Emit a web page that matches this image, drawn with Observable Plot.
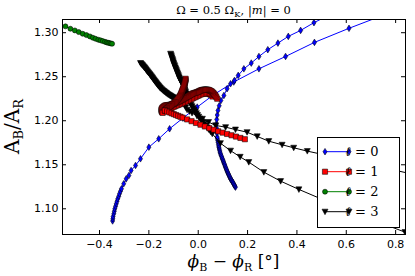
<!DOCTYPE html>
<html><head><meta charset="utf-8">
<script src="https://cdn.jsdelivr.net/npm/d3@7"></script>
<script src="https://cdn.jsdelivr.net/npm/@observablehq/plot@0.6"></script>
<style>body{margin:0;background:#fff}svg{display:block}</style>
</head><body><div id="chart"></div>
<script>
// ---- data ----
const xTicks = [-0.4, -0.2, 0.0, 0.2, 0.4, 0.6, 0.8];
const yTicks = [1.10, 1.15, 1.20, 1.25, 1.30];
const xDomain = [-0.55, 0.84];
const yDomain = [1.0708, 1.315];
const legendLabels = ["0", "1", "2", "3"];

// ℓ = 0 (blue diamonds)
const l0_branch1 = [[-0.347,1.0862],[-0.346,1.0886],[-0.345,1.0912],[-0.342,1.0943],[-0.340,1.0972],[-0.338,1.100],[-0.335,1.1028],[-0.332,1.1057],[-0.329,1.1085],[-0.326,1.1114],[-0.322,1.1142],[-0.319,1.117],[-0.315,1.120],[-0.311,1.1227],[-0.302,1.1284],[-0.292,1.134],[-0.281,1.1378],[-0.272,1.1435],[-0.254,1.1492],[-0.234,1.1568],[-0.200,1.170],[-0.160,1.1795],[-0.116,1.1909],[-0.062,1.203],[-0.004,1.2155],[0.060,1.229],[0.144,1.244],[0.246,1.259],[0.354,1.273],[0.471,1.289],[0.611,1.305],[0.76,1.321]];
const l0_branch2 = [[0.151,1.1246],[0.1485,1.1258],[0.146,1.127],[0.1435,1.1282],[0.141,1.1295],[0.1385,1.1307],[0.136,1.132],[0.1335,1.133],[0.131,1.134],[0.129,1.1352],[0.127,1.1365],[0.125,1.1377],[0.123,1.139],[0.121,1.1402],[0.119,1.1415],[0.117,1.1428],[0.115,1.144],[0.113,1.1455],[0.111,1.147],[0.109,1.1485],[0.107,1.150],[0.105,1.1515],[0.103,1.153],[0.101,1.1545],[0.099,1.156],[0.097,1.1575],[0.095,1.159],[0.0925,1.1608],[0.090,1.1625],[0.0885,1.1643],[0.087,1.166],[0.0855,1.1678],[0.084,1.1695],[0.083,1.1712],[0.082,1.173],[0.0805,1.1752],[0.079,1.1775],[0.078,1.1795],[0.077,1.1814],[0.0755,1.186],[0.0745,1.1915],[0.074,1.1966],[0.075,1.2015],[0.077,1.2065],[0.080,1.2117],[0.085,1.217],[0.092,1.223],[0.104,1.2287],[0.117,1.2364],[0.131,1.242],[0.147,1.2458],[0.162,1.2515],[0.185,1.259],[0.215,1.2655],[0.246,1.273],[0.282,1.2807],[0.323,1.2882],[0.365,1.2958],[0.415,1.3026],[0.469,1.3114],[0.53,1.32]];

// ℓ = 1 (red squares)
const l1_arch = [[0.077,1.225],[0.0735,1.2268],[0.070,1.2285],[0.0665,1.2298],[0.063,1.231],[0.0595,1.232],[0.056,1.233],[0.0525,1.2336],[0.049,1.2342],[0.0455,1.2346],[0.042,1.235],[0.0385,1.2352],[0.035,1.2354],[0.0315,1.2354],[0.028,1.2354],[0.0245,1.2353],[0.021,1.2352],[0.0175,1.235],[0.014,1.2348],[0.0105,1.2344],[0.007,1.234],[0.0035,1.2335],[0.000,1.233],[-0.0035,1.2326],[-0.007,1.2322],[-0.0105,1.2319],[-0.014,1.2316],[-0.0175,1.2313],[-0.021,1.231],[-0.0245,1.2305],[-0.028,1.230],[-0.0315,1.2294],[-0.035,1.2288],[-0.0385,1.2282],[-0.042,1.2276],[-0.046,1.227],[-0.050,1.2264],[-0.054,1.2257],[-0.058,1.225],[-0.062,1.2244],[-0.066,1.2238],[-0.070,1.2232],[-0.074,1.2226],[-0.078,1.222],[-0.082,1.2215],[-0.0865,1.221],[-0.091,1.2204],[-0.095,1.2198],[-0.099,1.2193],[-0.1035,1.219],[-0.108,1.2186],[-0.1125,1.2183],[-0.117,1.218],[-0.121,1.2178],[-0.125,1.2177],[-0.129,1.2175],[-0.133,1.2174],[-0.1365,1.2168],[-0.140,1.2162],[-0.143,1.2154],[-0.146,1.2145],[-0.148,1.2135],[-0.149,1.2125],[-0.1485,1.2115],[-0.148,1.2105],[-0.146,1.2097],[-0.144,1.209]];
const l1_arch2 = [[0.058,1.2275],[0.052,1.2292],[0.046,1.2302],[0.040,1.2308],[0.034,1.231],[0.028,1.231],[0.022,1.2308],[0.016,1.2304],[0.010,1.2298],[0.004,1.229],[-0.002,1.2282],[-0.008,1.2274],[-0.014,1.2266],[-0.020,1.2258],[-0.026,1.225],[-0.032,1.2242],[-0.038,1.2234],[-0.044,1.2226],[-0.050,1.2218],[-0.056,1.221],[-0.062,1.2202],[-0.068,1.2195],[-0.074,1.2188],[-0.080,1.2181],[-0.086,1.2174],[-0.092,1.2167],[-0.098,1.216],[-0.104,1.2152],[-0.110,1.2144],[-0.116,1.2136],[-0.122,1.2128],[-0.128,1.212],[-0.134,1.2112]];
const l1_column = [[-0.051,1.2477],[-0.0515,1.2466],[-0.052,1.2455],[-0.053,1.2444],[-0.054,1.2432],[-0.055,1.2421],[-0.056,1.241],[-0.057,1.2399],[-0.058,1.2388],[-0.0595,1.2377],[-0.061,1.2366],[-0.0625,1.2355],[-0.064,1.2344],[-0.0655,1.2333],[-0.067,1.2322],[-0.0685,1.2311],[-0.070,1.230],[-0.072,1.229],[-0.074,1.228],[-0.0765,1.227],[-0.079,1.226],[-0.0815,1.225],[-0.084,1.224],[-0.087,1.223],[-0.090,1.222],[-0.093,1.2212],[-0.096,1.2205],[-0.0995,1.2197],[-0.103,1.219],[-0.1065,1.2182],[-0.110,1.2175],[-0.1135,1.2167],[-0.117,1.216],[-0.1205,1.2152],[-0.124,1.2145],[-0.127,1.2137],[-0.130,1.213],[-0.1325,1.2122],[-0.135,1.2115]];
const l1_line = [[-0.135,1.2115],[-0.126,1.2105],[-0.117,1.2095],[-0.108,1.2085],[-0.099,1.2075],[-0.090,1.2065],[-0.081,1.2055],[-0.072,1.2045],[-0.063,1.2035],[-0.045,1.2015],[-0.027,1.1995],[-0.009,1.1975],[0.009,1.1955],[0.027,1.1935],[0.045,1.1915],[0.063,1.1898],[0.081,1.188],[0.099,1.1865],[0.117,1.185],[0.135,1.1835],[0.153,1.182],[0.171,1.1805],[0.189,1.179]];

// ℓ = 2 (green circles)
const l2_branch = [[-0.538,1.3072],[-0.518,1.3045],[-0.500,1.3026],[-0.484,1.3007],[-0.468,1.2988],[-0.453,1.2973],[-0.439,1.2958],[-0.427,1.2943],[-0.416,1.2931],[-0.405,1.292],[-0.396,1.2913],[-0.387,1.2905],[-0.378,1.2897],[-0.371,1.289],[-0.365,1.2886],[-0.360,1.2882],[-0.354,1.2878],[-0.349,1.2875]];

// ℓ = 3 (black triangles)
const l3_upper = [[-0.234,1.2655],[-0.2315,1.2648],[-0.229,1.264],[-0.2265,1.2633],[-0.224,1.2625],[-0.2215,1.2617],[-0.219,1.2608],[-0.2165,1.26],[-0.214,1.2591],[-0.2115,1.2582],[-0.209,1.2572],[-0.2065,1.2563],[-0.204,1.2553],[-0.201,1.2544],[-0.198,1.2534],[-0.1955,1.2525],[-0.193,1.2515],[-0.1905,1.2506],[-0.188,1.2496],[-0.1855,1.2487],[-0.183,1.2477],[-0.1805,1.2468],[-0.178,1.2458],[-0.1755,1.2449],[-0.173,1.2439],[-0.1705,1.243],[-0.168,1.2421],[-0.1655,1.2412],[-0.163,1.2403],[-0.1605,1.2395],[-0.158,1.2386],[-0.1555,1.2378],[-0.153,1.237],[-0.1495,1.2361],[-0.146,1.2352],[-0.1425,1.2344],[-0.139,1.2336],[-0.1355,1.2328],[-0.132,1.2321],[-0.129,1.2314],[-0.126,1.2307],[-0.1225,1.23],[-0.119,1.2294],[-0.1155,1.2288],[-0.112,1.2282],[-0.109,1.2276],[-0.106,1.2271],[-0.1025,1.2266],[-0.099,1.2261],[-0.095,1.2256],[-0.091,1.2251],[-0.0865,1.2246],[-0.082,1.2241],[-0.078,1.2236],[-0.074,1.2232],[-0.0695,1.2227],[-0.065,1.2223],[-0.0605,1.2202],[-0.056,1.218],[-0.0505,1.2152],[-0.045,1.2125],[-0.035,1.2106],[-0.025,1.2088],[-0.005,1.2055],[0.017,1.2022],[0.042,1.1985],[0.070,1.1947],[0.111,1.1927],[0.151,1.190],[0.198,1.187],[0.239,1.1822],[0.286,1.1768],[0.340,1.1727],[0.387,1.1693],[0.442,1.1655],[0.50,1.162],[0.57,1.158],[0.65,1.153],[0.73,1.148],[0.89,1.138]];
const l3_lower = [[-0.112,1.2761],[-0.110,1.2747],[-0.1085,1.2733],[-0.107,1.2719],[-0.105,1.2705],[-0.1035,1.269],[-0.102,1.2676],[-0.1005,1.2662],[-0.099,1.2648],[-0.097,1.2634],[-0.095,1.262],[-0.093,1.2605],[-0.091,1.2591],[-0.089,1.2577],[-0.087,1.2562],[-0.085,1.2548],[-0.083,1.2534],[-0.081,1.252],[-0.079,1.2505],[-0.077,1.2491],[-0.075,1.2477],[-0.073,1.2465],[-0.0705,1.2452],[-0.068,1.244],[-0.066,1.2427],[-0.064,1.2416],[-0.062,1.2405],[-0.060,1.2394],[-0.058,1.2382],[-0.056,1.2368],[-0.0545,1.2354],[-0.053,1.234],[-0.051,1.2325],[-0.049,1.2308],[-0.047,1.229],[-0.0445,1.2272],[-0.042,1.2255],[-0.039,1.2238],[-0.036,1.222],[-0.0325,1.2201],[-0.029,1.2182],[-0.025,1.2164],[-0.021,1.2145],[-0.0165,1.2125],[-0.012,1.2105],[-0.0075,1.2085],[-0.003,1.2065],[0.002,1.2045],[0.007,1.2025],[0.0125,1.2005],[0.018,1.1985],[0.024,1.1965],[0.030,1.1945],[0.0365,1.1922],[0.043,1.190],[0.050,1.1876],[0.057,1.1852],[0.090,1.1745],[0.131,1.166],[0.17,1.159],[0.205,1.153],[0.266,1.1416],[0.334,1.1314],[0.408,1.122],[0.50,1.111],[0.61,1.098],[0.72,1.086],[0.838,1.0735]];

// ---- layout / style ----
const W = 415, H = 276, mL = 62, mR = 10, mT = 19, mB = 42;
const plotW = W - mL - mR, plotH = H - mT - mB;
const tickLen = 4;

const thinDiamond = {draw(ctx, size) {const r = Math.sqrt(size / Math.PI); ctx.moveTo(0, -r); ctx.lineTo(0.62 * r, 0); ctx.lineTo(0, r); ctx.lineTo(-0.62 * r, 0); ctx.closePath();}};
const squareSym = {draw(ctx, size) {const r = Math.sqrt(size / Math.PI); ctx.moveTo(-r, -r); ctx.lineTo(r, -r); ctx.lineTo(r, r); ctx.lineTo(-r, r); ctx.closePath();}};
const triDown = {draw(ctx, size) {const r = Math.sqrt(size / Math.PI); ctx.moveTo(-r, -0.85 * r); ctx.lineTo(r, -0.85 * r); ctx.lineTo(0, r); ctx.closePath();}};
const circleSym = {draw(ctx, size) {const r = Math.sqrt(size / Math.PI); ctx.moveTo(r, 0); ctx.arc(0, 0, r, 0, 2 * Math.PI);}};

const rows = (pairs, branch) => pairs.map(([x, y]) => ({x, y, branch}));

const series = [
  {label: legendLabels[0], color: "#0000ff", symbol: thinDiamond, r: 3.3, data: [...rows(l0_branch1, "a"), ...rows(l0_branch2, "b")]},
  {label: legendLabels[3], color: "#000000", symbol: triDown, r: 3.0, data: [...rows(l3_upper, "a"), ...rows(l3_lower, "b")]},
  {label: legendLabels[1], color: "#ff0000", symbol: squareSym, r: 2.6, data: [...rows(l1_arch2, "d"), ...rows(l1_arch, "a"), ...rows(l1_column, "b"), ...rows(l1_line, "c")]},
  {label: legendLabels[2], color: "#008000", symbol: circleSym, r: 2.5, data: rows(l2_branch, "a")}
];

const marks = [];
for (const s of series) {
  marks.push(Plot.line(s.data, {x: "x", y: "y", z: "branch", stroke: s.color, strokeWidth: 1, clip: true}));
  marks.push(Plot.dot(s.data, {x: "x", y: "y", symbol: s.symbol, r: s.r, fill: s.color, stroke: "#000", strokeWidth: 0.55, clip: true}));
}

const chart = Plot.plot({
  width: W, height: H,
  marginLeft: mL, marginRight: mR, marginTop: mT, marginBottom: mB,
  style: {fontFamily: "DejaVu Sans", fontSize: "11px", background: "#fff"},
  x: {domain: xDomain},
  y: {domain: yDomain},
  marks: [
    ...marks,
    Plot.ruleX(xTicks, {x: d => d, insetTop: plotH - tickLen, stroke: "#000"}),
    Plot.ruleX(xTicks, {x: d => d, insetBottom: plotH - tickLen, stroke: "#000"}),
    Plot.ruleY(yTicks, {y: d => d, insetRight: plotW - tickLen, stroke: "#000"}),
    Plot.ruleY(yTicks, {y: d => d, insetLeft: plotW - tickLen, stroke: "#000"}),
    Plot.axisX(xTicks, {tickSize: 0, tickPadding: 6, tickFormat: d3.format(".1f"), fontSize: 11, label: null}),
    Plot.axisY(yTicks, {tickSize: 0, tickPadding: 4, tickFormat: d3.format(".2f"), fontSize: 11, label: null}),
    Plot.frame({stroke: "#000", strokeWidth: 1})
  ]
});

document.getElementById("chart").appendChild(chart);

// ---- legend, title, axis labels ----
const svg = d3.select(chart);
const serif = "'DejaVu Serif', serif";

const leg = svg.append("g");
leg.append("rect").attr("x", 317.5).attr("y", 137.5).attr("width", 82).attr("height", 90)
  .attr("fill", "#fff").attr("stroke", "#000").attr("stroke-width", 1);
const legOrder = [series[0], series[2], series[3], series[1]];
legOrder.forEach((s, i) => {
  const cy = 151.7 + i * 20;
  leg.append("line").attr("x1", 325).attr("x2", 349).attr("y1", cy).attr("y2", cy)
    .attr("stroke", s.color).attr("stroke-width", 1);
  const symPath = d3.symbol(s.symbol, Math.PI * s.r * s.r)();
  for (const px of [325, 349]) {
    leg.append("path").attr("d", symPath).attr("transform", `translate(${px},${cy})`)
      .attr("fill", s.color).attr("stroke", "#000").attr("stroke-width", 0.55);
  }
  const t = leg.append("text").attr("x", 362).attr("y", cy + 4.5)
    .attr("font-family", serif).attr("font-size", 13);
  t.append("tspan").attr("font-style", "italic").text("ℓ");
  t.append("tspan").text(" = " + s.label);
});

// title
const title = svg.append("text").attr("x", mL + plotW / 2).attr("y", 14)
  .attr("text-anchor", "middle").attr("font-family", serif).attr("font-size", 11.5);
title.append("tspan").text("Ω = 0.5 Ω");
title.append("tspan").attr("font-size", 8).attr("dy", 2.5).text("K");
title.append("tspan").attr("dy", -2.5).attr("dx", 0.5).text(", |");
title.append("tspan").attr("font-style", "italic").text("m");
title.append("tspan").text("| = 0");

// y label
const yl = svg.append("text").attr("transform", `translate(19,${mT + plotH / 2}) rotate(-90)`)
  .attr("text-anchor", "middle").attr("font-family", serif).attr("font-size", 20);
yl.append("tspan").text("A");
yl.append("tspan").attr("font-size", 13).attr("dy", 4).text("B");
yl.append("tspan").attr("dy", -4).text("/A");
yl.append("tspan").attr("font-size", 13).attr("dy", 4).text("R");

// x label
const xl = svg.append("text").attr("x", mL + plotW / 2).attr("y", 267)
  .attr("text-anchor", "middle").attr("font-family", serif).attr("font-size", 17);
xl.append("tspan").attr("font-style", "italic").text("ϕ");
xl.append("tspan").attr("font-size", 11).attr("dy", 3.5).text("B");
xl.append("tspan").attr("dy", -3.5).text(" − ");
xl.append("tspan").attr("font-style", "italic").text("ϕ");
xl.append("tspan").attr("font-size", 11).attr("dy", 3.5).text("R");
xl.append("tspan").attr("dy", -3.5).text(" [°]");
</script>
</body></html>
